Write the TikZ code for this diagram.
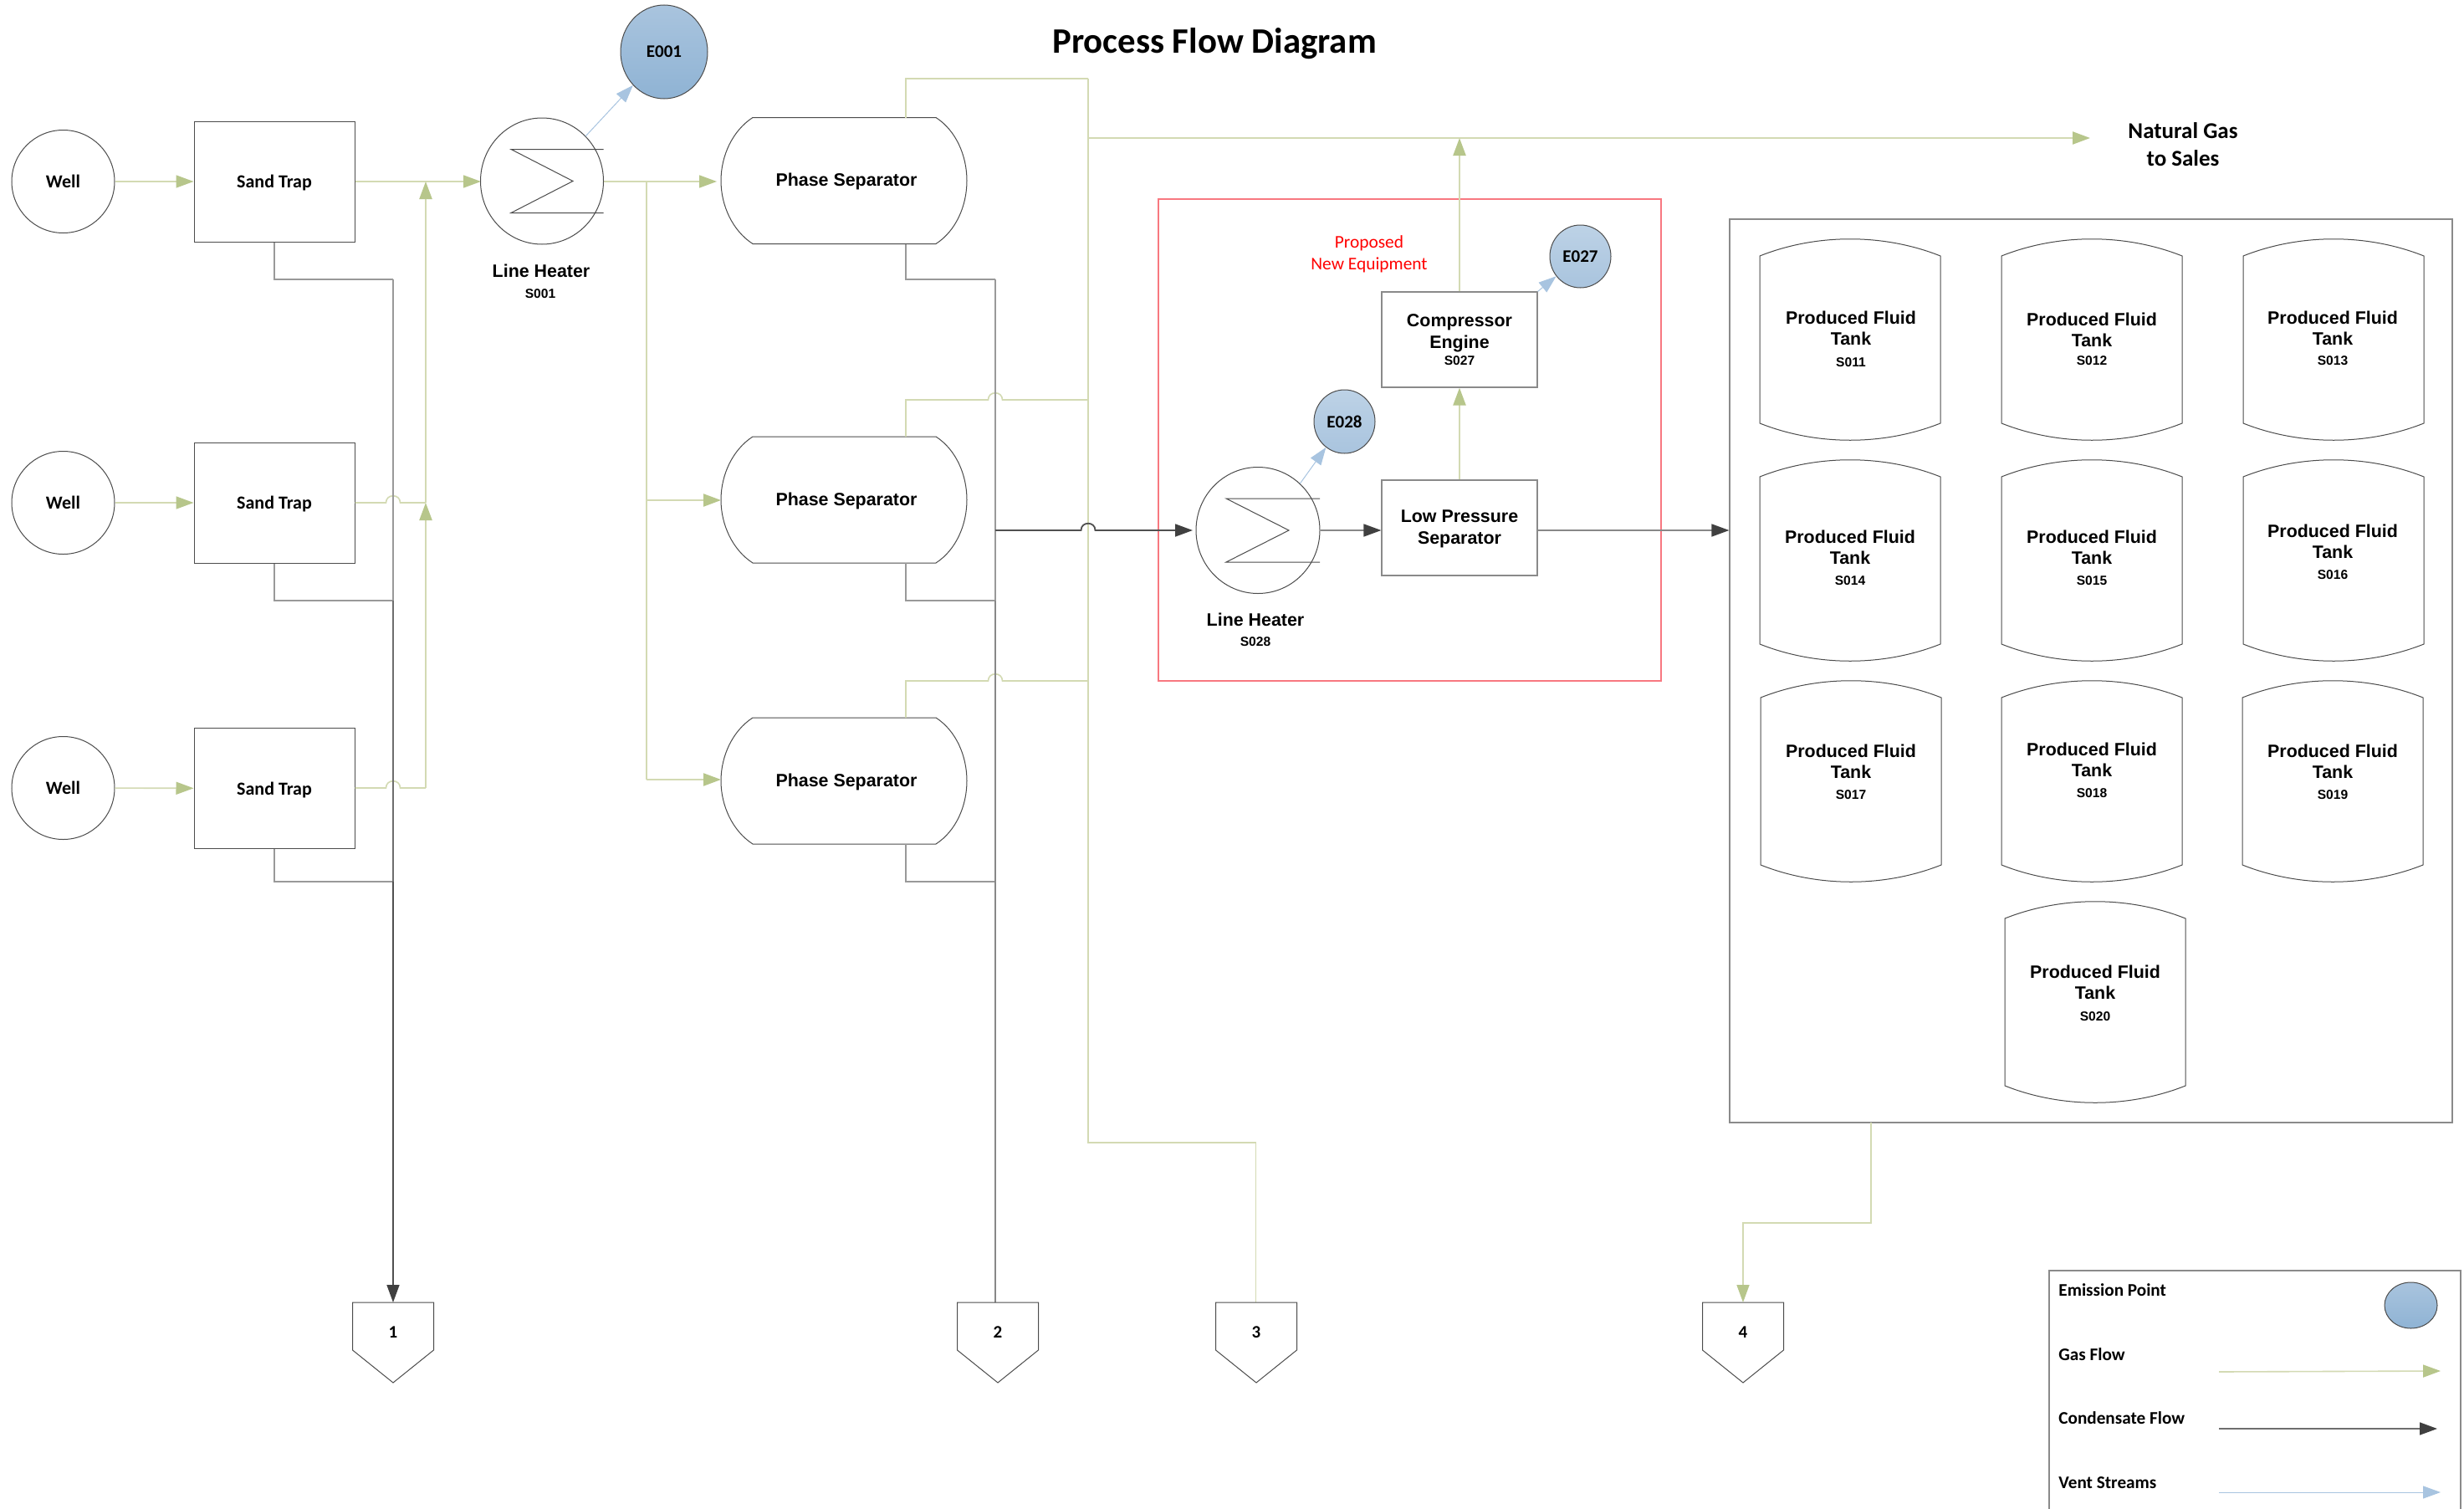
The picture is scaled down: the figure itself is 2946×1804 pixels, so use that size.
\documentclass[tikz,border=0pt]{standalone}
\usepackage{fontspec}
\setmainfont{Carlito}
\newfontfamily\arfont{Liberation Sans}
\usetikzlibrary{arrows.meta,shapes.geometric}
\definecolor{gastip}{HTML}{B7C68B}
\definecolor{gasline}{HTML}{D3DAB3}
\definecolor{condA}{HTML}{999999}
\definecolor{condB}{HTML}{6E6E6E}
\definecolor{condC}{HTML}{505050}
\definecolor{condtipc}{HTML}{404040}
\definecolor{condD}{HTML}{888888}
\definecolor{ventc}{HTML}{A8C4E0}
\definecolor{redbox}{HTML}{F87880}
\definecolor{shapeln}{HTML}{4C4C4C}
\definecolor{rectln}{HTML}{8A8A8A}
\definecolor{emA}{HTML}{A9C4DE}
\definecolor{emB}{HTML}{8FB3D4}
\definecolor{emC}{HTML}{BDD2E6}
\definecolor{emD}{HTML}{A9C4DE}
\tikzset{
  x=0.5pt,y=-0.5pt,
  outl/.style={draw=shapeln,line width=0.5pt,fill=white},
  wellnode/.style={outl,circle,inner sep=0pt,minimum size=61.5pt,font=\bfseries\fontsize{11}{13}\selectfont},
  trapnode/.style={outl,rectangle,inner sep=0pt,minimum width=96pt,minimum height=72pt,text depth=0pt,font=\bfseries\fontsize{11}{13}\selectfont},
  htr/.style={outl,ellipse,inner sep=0pt},
  emit/.style={draw=shapeln,line width=0.5pt,ellipse,inner sep=0pt,top color=emA,bottom color=emB,font=\bfseries\fontsize{10.5}{12}\selectfont},
  emitl/.style={emit,top color=emC,bottom color=emD},
  ghost/.style={inner sep=0pt,rectangle},
  ar11/.style={font=\arfont\bfseries\fontsize{10.7}{13}\selectfont,align=center,inner sep=0pt},
  ar8/.style={font=\arfont\bfseries\fontsize{7.8}{9}\selectfont,inner sep=0pt},
  boxa/.style={draw=rectln,line width=0.6pt,fill=white,rectangle,inner sep=0pt,minimum width=93pt,align=center},
  gas/.style={draw=gasline,line width=1.1pt},
  gasthin/.style={draw=gasline,line width=0.8pt},
  gastipd/.style={-{Triangle[length=10.5pt,width=7.5pt,color=gastip]}},
  cond/.style={line width=0.8pt},
  condtip/.style={-{Triangle[length=10.5pt,width=7.5pt,color=condtipc]}},
  vent/.style={draw=ventc,line width=0.5pt,-{Triangle[length=10.5pt,width=7.5pt,color=ventc]}},
  lgd/.style={font=\bfseries\fontsize{10.6}{12}\selectfont,anchor=west,inner sep=0pt},
  tagtxt/.style={font=\bfseries\fontsize{10.5}{12}\selectfont,inner sep=0pt},
}
% separator: name, centre y
\newcommand{\sepnode}[2]{%
  \path[outl] (900,#2-75.5) -- (1119,#2-75.5)
    .. controls (1143,#2-60) and (1156,#2-30) .. (1156,#2)
    .. controls (1156,#2+30) and (1143,#2+60) .. (1119,#2+75.5)
    -- (900,#2+75.5)
    .. controls (876,#2+60) and (862,#2+30) .. (862,#2)
    .. controls (862,#2-30) and (876,#2-60) .. (900,#2-75.5) -- cycle;
  \node[ghost,minimum width=147pt,minimum height=75.5pt] (#1) at (1009,#2) {};
  \node[ar11,text depth=0pt,font=\arfont\bfseries\fontsize{10.7}{12}\selectfont] (#1t) at (1012,#2-1) {Phase Separator};
}
% tank: name, cx, top, text x, text mid y, id y, id
\newcommand{\tanknode}[7]{%
  \path[outl] (#2-108,#3+20) .. controls (#2-40,#3-7) and (#2+40,#3-7) .. (#2+108,#3+20)
    -- (#2+108,#3+220) .. controls (#2+40,#3+247) and (#2-40,#3+247) .. (#2-108,#3+220) -- cycle;
  \node[ar11,font=\arfont\bfseries\fontsize{10.7}{12.5}\selectfont] (#1t) at (#4,#5) {Produced Fluid\\Tank};
  \node[ar8] (#1i) at (#4,#6+1) {#7};
}
% off-page tag: name, cx, label
\newcommand{\tagnode}[3]{%
  \path[outl] (#2-48.5,1557) -- (#2+48.5,1557) -- (#2+48.5,1614) -- (#2,1653) -- (#2-48.5,1614) -- cycle;
  \coordinate (#1) at (#2,1557);
  \node[tagtxt] (#1t) at (#2,1593) {#3};
}
% heater symbol: name, cx, cy, half-w, half-h, zig left, zig apex, zig half-h
\newcommand{\htrnode}[8]{%
  \node[htr,minimum width=#4*2*0.5pt,minimum height=#5*2*0.5pt] (#1) at (#2,#3) {};
  \draw[draw=shapeln,line width=0.5pt] (#2+#4,#3-#8) -- (#6,#3-#8) -- (#7,#3) -- (#6,#3+#8) -- (#2+#4,#3+#8);
}
\begin{document}
\begin{tikzpicture}
\useasboundingbox (0,0) rectangle (2946,1804);
\fill[white] (0,0) rectangle (2946,1804);

% nodes
\node[font=\bfseries\fontsize{21.4}{24}\selectfont,inner sep=0pt,text depth=0pt] (title) at (1452,48) {Process Flow Diagram};

\node[wellnode] (w1) at (75.5,217) {Well};
\node[wellnode] (w2) at (75.5,601) {Well};
\node[wellnode] (w3) at (75.5,942) {Well};
\node[trapnode] (st1) at (328,217) {Sand Trap};
\node[trapnode] (st2) at (328,601) {Sand Trap};
\node[trapnode] (st3) at (328,942.5) {Sand Trap};

\sepnode{sp1}{216}
\sepnode{sp2}{597.5}
\sepnode{sp3}{933.5}

% junctions
\coordinate (ga) at (509,217);
\coordinate (gb) at (509,601);
\coordinate (gc) at (509,942);
\coordinate (ca) at (470,334);
\coordinate (cb) at (470,718);
\coordinate (cc) at (470,1054);
\coordinate (da) at (1190,334);
\coordinate (db) at (1190,718);
\coordinate (dc) at (1190,1054);
\coordinate (dh) at (1190,634);
\coordinate (ta) at (773,217);
\coordinate (tb) at (773,598);
\coordinate (tc) at (773,932);
\coordinate (va) at (1301,94);
\coordinate (vm) at (1301,165);
\coordinate (vb) at (1301,478);
\coordinate (vc) at (1301,814);
\coordinate (vd) at (1301,1366);
\coordinate (ve) at (1501.5,1366);
\coordinate (sa) at (1083,141);
\coordinate (sb) at (1083,522);
\coordinate (sc) at (1083,858);
\coordinate (sab) at (1083,291.5);
\coordinate (sbb) at (1083,673);
\coordinate (scb) at (1083,1009);
\coordinate (nat) at (2499,165);
\coordinate (cm) at (1745,165);

% red box
\draw[draw=redbox,line width=0.9pt] (1385,238) rectangle (1986,814);
\node[font=\fontsize{10.7}{13}\selectfont,text=red,align=center,inner sep=0pt] (prop) at (1637,304) {Proposed\\New Equipment};

% gas lines
\draw[gas] (ta) -- (tc);
\draw[gasthin] (va) -- (vd) -- (ve) -- (1501.5,1557);
\draw[gasthin,gastipd] (w1) -- (st1);
\draw[gasthin,gastipd] (w2) -- (st2);
\draw[gasthin,gastipd] (w3) -- (st3);
\draw[gasthin,gastipd] (st1) -- (575,217);
\draw[gasthin] (st2.east |- gb) -- (461.5,601) .. controls +(0,-11) and +(0,-11) .. (478.5,601) -- (gb);
\draw[gasthin] (st3.east |- gc) -- (461.5,942) .. controls +(0,-11) and +(0,-11) .. (478.5,942) -- (gc);
\draw[gas,gastipd] (gb) -- (ga);
\draw[gas,gastipd] (gc) -- (gb);
\draw[gasthin,gastipd] (722,217) -- (857,217);
\draw[gas,gastipd] (tb) -- (862,598);
\draw[gas,gastipd] (tc) -- (862,932);
\draw[gasthin] (sa) |- (va);
\draw[gasthin] (sb) |- (1181.5,478) .. controls +(0,-11) and +(0,-11) .. (1198.5,478) -- (vb);
\draw[gasthin] (sc) |- (1181.5,814) .. controls +(0,-11) and +(0,-11) .. (1198.5,814) -- (vc);
\draw[gas,gastipd] (vm) -- (nat);

% condensate lines
\draw[cond,draw=condA] (st1.south) |- (ca);
\draw[cond,draw=condA] (st2.south) |- (cb);
\draw[cond,draw=condA] (st3.south) |- (cc);
\draw[cond,draw=condA] (ca) -- (cb);
\draw[cond,draw=condB] (cb) -- (cc);
\coordinate (t1) at (470,1557);
\draw[cond,draw=condC,condtip] (cc) -- (t1);
\draw[cond,draw=condA] (sab) |- (da);
\draw[cond,draw=condA] (sbb) |- (db);
\draw[cond,draw=condA] (scb) |- (dc);
\draw[cond,draw=condA] (da) -- (db);
\draw[cond,draw=condD] (db) -- (1190,1557);

% heaters
\htrnode{h1}{648}{216.5}{73.5}{75.5}{611}{685}{38}
\node[ar11] (h1t) at (647,324) {Line Heater};
\node[ar8] (h1i) at (646,351) {S001};
\htrnode{h2}{1504}{634}{74}{75.5}{1466}{1541}{38}
\node[ar11] (h2t) at (1501,741) {Line Heater};
\node[ar8] (h2i) at (1501,767) {S028};

\draw[cond,draw=condC,line width=0.9pt,condtip] (dh) -- (1292.5,634) .. controls +(0,-11) and +(0,-11) .. (1309.5,634) -- (1426,634);

% boxes
\node[boxa,minimum height=57pt] (cmp) at (1745,406) {};
\node[ar11] (cmpt) at (1745,398) {Compressor\\Engine};
\node[ar8] (cmpi) at (1745,431) {S027};
\node[boxa,minimum height=57pt] (lps) at (1745,631) {};
\node[ar11] (lpst) at (1745,632) {Low Pressure\\Separator};
\draw[gas,gastipd] (lps) -- (cmp);
\draw[gas,gastipd] (cmp) -- (cm);
\draw[cond,draw=condD,condtip] (h2.east) -- (h2.east -| lps.west);

% emission points
\node[emit,minimum width=52pt,minimum height=56pt] (e1) at (794,62) {E001};
\node[emitl,minimum width=36.5pt,minimum height=38pt] (e28) at (1607.5,504) {E028};
\node[emitl,minimum width=36.5pt,minimum height=37.5pt] (e27) at (1889.5,306.5) {E027};
\draw[vent] (700,163) -- (e1);
\draw[vent] (h2.48) -- (e28);
\draw[vent] (cmp.north east) -- (e27);

\node[font=\bfseries\fontsize{13.5}{16.5}\selectfont,align=center,inner sep=0pt] (ng) at (2610,172.5) {Natural Gas\\to Sales};

% tanks box
\node[draw=rectln,line width=0.6pt,rectangle,inner sep=0pt,minimum width=432pt,minimum height=540pt] (tb0) at (2500,802) {};
\draw[cond,draw=condD,condtip] (lps.east |- h2) -- (tb0.west |- h2);
\tanknode{k11}{2212}{286}{2213}{392}{432}{S011}
\tanknode{k12}{2501}{286}{2501}{394}{430}{S012}
\tanknode{k13}{2790}{286}{2789}{392}{430}{S013}
\tanknode{k14}{2212}{550}{2212}{654}{693}{S014}
\tanknode{k15}{2501}{550}{2501}{654}{693}{S015}
\tanknode{k16}{2790}{550}{2789}{647}{686}{S016}
\tanknode{k17}{2213}{814}{2213}{910}{949}{S017}
\tanknode{k18}{2501}{814}{2501}{908.5}{947}{S018}
\tanknode{k19}{2789}{814}{2789}{910}{949}{S019}
\tanknode{k20}{2505}{1078}{2505}{1174}{1214}{S020}

% tags
\tagnode{t1b}{470}{1}
\tagnode{t2b}{1193}{2}
\tagnode{t3b}{1502}{3}
\tagnode{t4b}{2084}{4}
\coordinate (tbo) at (2237,1342);
\draw[gasthin,gastipd] (tbo) -- (2237,1462) -| (t4b);

% legend
\draw[draw=rectln,line width=0.6pt] (2450,1804) -- (2450,1519) -- (2942,1519) -- (2942,1804);
\node[lgd] (l1) at (2461,1542) {Emission Point};
\node[lgd] (l2) at (2461,1619) {Gas Flow};
\node[lgd] (l3) at (2461,1695) {Condensate Flow};
\node[lgd] (l4) at (2461,1773) {Vent Streams};
\node[emit,minimum width=31.5pt,minimum height=27.5pt] (le) at (2882.5,1560.5) {};
\coordinate (lg0) at (2653,1640); \coordinate (lg1) at (2918,1639);
\coordinate (lc0) at (2653,1708); \coordinate (lc1) at (2914,1708);
\coordinate (lv0) at (2653,1784); \coordinate (lv1) at (2918,1784);
\draw[gasthin,gastipd] (lg0) -- (lg1);
\draw[cond,draw=condB,condtip] (lc0) -- (lc1);
\draw[vent] (lv0) -- (lv1);
\end{tikzpicture}
\end{document}
